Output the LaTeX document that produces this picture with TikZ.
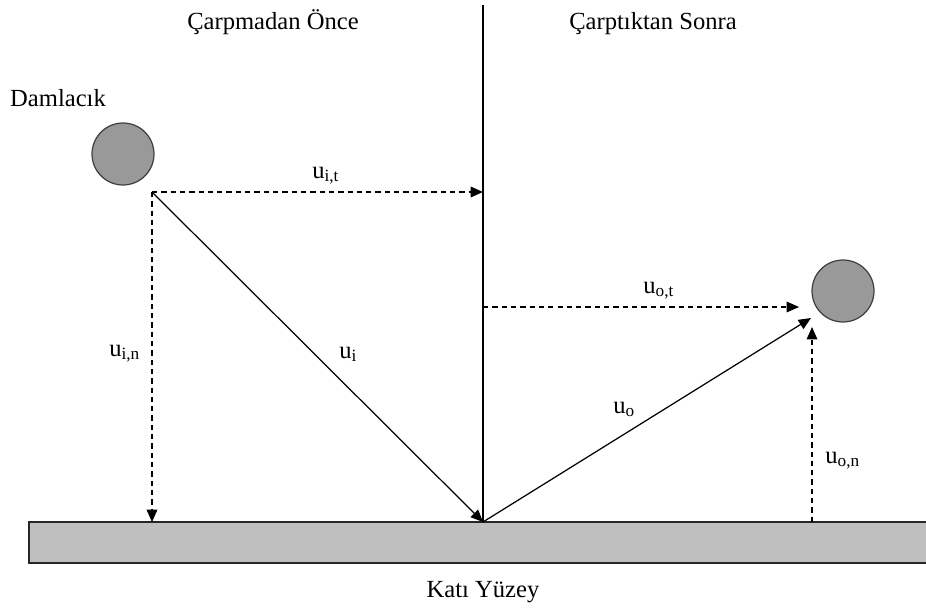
\documentclass[tikz,border=0pt]{standalone}
\usepackage{fontspec}
\setmainfont{Liberation Serif}
\usetikzlibrary{arrows.meta, positioning}

\newcommand{\velo}[1]{u\textsubscript{#1}}

\begin{document}
\begin{tikzpicture}[
    x=0.02cm, y=-0.02cm,
    drop/.style={circle, draw=black!75, fill=black!40, line width=0.7pt, minimum size=1.24cm, inner sep=0pt},
    surface/.style={rectangle, draw=black!85, fill=black!25, line width=0.9pt, minimum width=18.2cm, minimum height=0.82cm},
    txt/.style={font=\fontsize{14}{16}\selectfont, inner sep=0pt},
    vec/.style={line width=0.7pt, -{Triangle[length=7pt, width=6pt]}},
    comp/.style={vec, dash pattern=on 3pt off 2.3pt}
]
\clip (0,0) rectangle (926,608);

% Nodes
\node (drop1) [drop] at (123,154) {};
\node (drop2) [drop] at (843,291) {};
\node (ground) [surface] at (484,542.5) {};
\node (before) [txt, anchor=base] at (273,30) {Çarpmadan Önce};
\node (after) [txt, anchor=base] at (653,30) {Çarptıktan Sonra};
\node (droplabel) [txt, anchor=base] at (58,107) {Damlacık};
\node (groundlabel) [txt, anchor=base] at (483,597) {Katı Yüzey};

\coordinate (top) at (483,5);
\coordinate (start) at (152,192);
\coordinate (impact) at (483,522);
\coordinate (wallhit) at (483,192);
\coordinate (floorhit) at (152,522);
\coordinate (otstart) at (483,307);
\coordinate (otend) at (799,307);
\coordinate (uoend) at (811,318);
\coordinate (onstart) at (812,522);
\coordinate (onend) at (812,327);

% Lines
\draw [line width=0.7pt] (top) -- (impact);
\draw [comp] (start) -- (wallhit);
\draw [comp] (start) -- (floorhit);
\draw [vec] (start) -- (impact);
\draw [vec] (impact) -- (uoend);
\draw [comp] (otstart) -- (otend);
\draw [comp] (onstart) -- (onend);

% Labels
\node (uit) [txt, anchor=base west] at (312,178) {\velo{i,t}};
\node (uin) [txt, anchor=base west] at (109,356) {\velo{i,n}};
\node (ui) [txt, anchor=base west] at (339,358) {\velo{i}};
\node (uot) [txt, anchor=base west] at (643,293) {\velo{o,t}};
\node (uo) [txt, anchor=base west] at (613,413) {\velo{o}};
\node (uon) [txt, anchor=base west] at (825,463) {\velo{o,n}};

\end{tikzpicture}
\end{document}
